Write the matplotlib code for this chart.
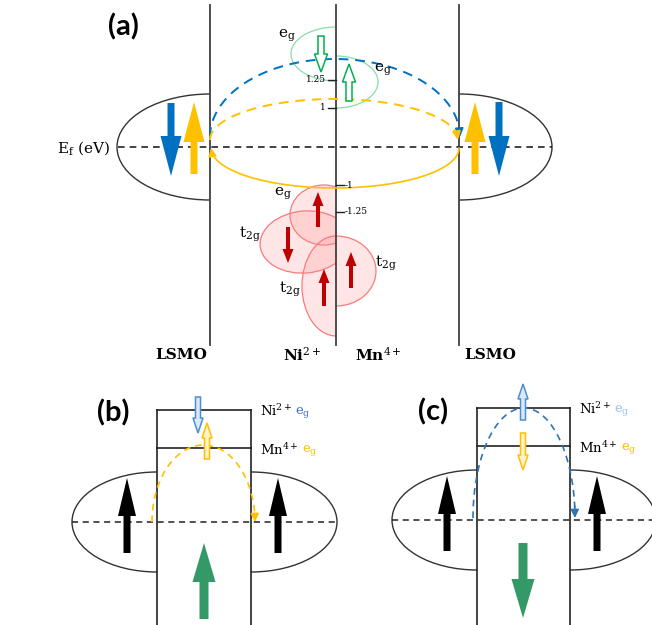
import numpy as np
import matplotlib.pyplot as plt
from matplotlib.patches import Ellipse, Arc, Rectangle, FancyArrow

plt.rcParams['mathtext.fontset'] = 'dejavuserif'
SERIF = 'DejaVu Serif'

# Textos del esquema
panel_labels = ['(a)', '(b)', '(c)']
layer_labels = ['LSMO', 'Ni$^{2+}$', 'Mn$^{4+}$', 'LSMO']
upper_ticks = ['1.25', '1']
lower_ticks = ['-1', '-1.25']
level_ions = ['Ni$^{2+}$', 'Mn$^{4+}$']
eg_label = 'e$_\\mathrm{g}$'
t2g_label = 't$_\\mathrm{2g}$'
ef_label = 'E$_\\mathrm{f}$ (eV)'

# Colores
BLUE = '#0070c0'
YELLOW = '#ffc000'
DARKRED = '#c00000'
GREEN = '#00b050'
SEAGREEN = '#339966'
LINE = '#404040'
PINK = (1.0, 0.55, 0.55, 0.22)

fig = plt.figure(figsize=(6.52, 6.25), dpi=100)
ax = fig.add_axes([0, 0, 1, 1])
ax.set_xlim(0, 652)
ax.set_ylim(625, 0)
ax.axis('off')
renderer = fig.canvas.get_renderer()


def flecha(x, y0, y1, color, w, hw, hl, face=None, z=5):
    if face is None:
        a = FancyArrow(x, y0, 0, y1 - y0, width=w, head_width=hw, head_length=hl,
                       length_includes_head=True, fc=color, ec=color, lw=0, zorder=z)
    else:
        a = FancyArrow(x, y0, 0, y1 - y0, width=w, head_width=hw, head_length=hl,
                       length_includes_head=True, fc=face, ec=color, lw=1.1, zorder=z)
    ax.add_patch(a)


def media_elipse(cx, cy, a, b, lado):
    if lado == 'izq':
        arc = Arc((cx, cy), 2 * a, 2 * b, theta1=90, theta2=270, color='#333333', lw=1)
    else:
        arc = Arc((cx, cy), 2 * a, 2 * b, theta1=-90, theta2=90, color='#333333', lw=1)
    ax.add_patch(arc)


def arco(cx, cy, a, b, color, ls, arriba=True, hacia_izq=False, lw=1.4):
    t = np.linspace(0, np.pi, 200)
    if hacia_izq:
        x = cx + a * np.cos(t)
    else:
        x = cx - a * np.cos(t)
    y = cy - b * np.sin(t) if arriba else cy + b * np.sin(t)
    ax.plot(x[:-6], y[:-6], color=color, ls=ls, lw=lw, zorder=3)
    ax.annotate('', xy=(x[-1], y[-1]), xytext=(x[-8], y[-8]),
                arrowprops=dict(arrowstyle='-|>', color=color, lw=lw,
                                mutation_scale=12, shrinkA=0, shrinkB=0), zorder=3)


def lobulo(cx, cy, w, h, fc, ec, lado, ang=0):
    e = Ellipse((cx, cy), w, h, angle=ang, fc=fc, ec=ec, lw=0.9, zorder=1)
    ax.add_patch(e)
    if lado == 'izq':
        clip = Rectangle((0, 0), 336, 625, transform=ax.transData)
    else:
        clip = Rectangle((336, 0), 316, 625, transform=ax.transData)
    e.set_clip_path(clip)


def texto_doble(x, y, t1, t2, col2, fs=9.5):
    # dos textos seguidos, el segundo con otro color
    a = ax.text(x, y, t1, fontsize=fs, family=SERIF, ha='left', va='center')
    bb = a.get_window_extent(renderer=renderer)
    ax.text(bb.x1 + 3, y + 1, t2, fontsize=fs, family=SERIF, color=col2,
            ha='left', va='center')


# ---------------- Panel (a) ----------------
ax.text(123, 27, panel_labels[0], fontsize=21, fontweight='bold', family='Lato',
        ha='center', va='center')

for xv in [210, 336, 459]:
    ax.plot([xv, xv], [5, 345], color=LINE, lw=1.3, zorder=2)

media_elipse(210, 147, 93, 53, 'izq')
media_elipse(459, 147, 93, 53, 'der')
ax.plot([118, 552], [147, 147], color='#222222', ls=(0, (4, 3)), lw=1.2, zorder=2)
ax.text(84, 148, ef_label, fontsize=11, family=SERIF, ha='center', va='center')

# espines en LSMO
flecha(171, 103, 176, BLUE, 7, 21, 40)
flecha(194, 174, 102, YELLOW, 7, 21, 40)
flecha(475, 174, 102, YELLOW, 7, 21, 40)
flecha(499, 102, 176, BLUE, 7, 21, 40)

# lóbulos e_g (verde) y t2g (rojo)
lobulo(336, 54, 90, 54, 'none', '#88ddaa', 'izq')
lobulo(336, 82, 84, 52, 'none', '#88ddaa', 'der')
lobulo(324, 215, 68, 60, PINK, '#f47c7c', 'izq')
lobulo(305, 242, 90, 62, PINK, '#f47c7c', 'izq', ang=-5)
lobulo(336, 286, 68, 100, PINK, '#f47c7c', 'izq')
lobulo(336, 271, 80, 70, PINK, '#f47c7c', 'der')

flecha(321, 36, 72, GREEN, 6, 13, 18, face='white')
flecha(349, 101, 64, GREEN, 6, 13, 18, face='white')

flecha(318, 227, 192, DARKRED, 4, 11, 14)
flecha(288, 227, 263, DARKRED, 4, 11, 14)
flecha(324, 306, 269, DARKRED, 4, 11, 14)
flecha(351, 288, 252, DARKRED, 4, 11, 14)

# arcos de transferencia
arco(335, 137, 125, 78, BLUE, (0, (5, 3.5)))
arco(334, 140, 124, 41, YELLOW, (0, (5, 3.5)))
arco(335, 148, 124, 40, YELLOW, '-', arriba=False, hacia_izq=True, lw=1.2)

# marcas de energía
for lab, yv in zip(upper_ticks, [80, 108]):
    ax.plot([328, 336], [yv, yv], color='#222222', lw=1)
    ax.text(326, yv, lab, fontsize=6.5, family=SERIF, ha='right', va='center')
for lab, yv in zip(lower_ticks, [185, 212]):
    ax.plot([336, 344], [yv, yv], color='#222222', lw=1)
    ax.text(345, yv, lab, fontsize=6.5, family=SERIF, ha='left', va='center')

ax.text(287, 36, eg_label, fontsize=11, family=SERIF, ha='center', va='center')
ax.text(383, 70, eg_label, fontsize=11, family=SERIF, ha='center', va='center')
ax.text(283, 194, eg_label, fontsize=11, family=SERIF, ha='center', va='center')
ax.text(250, 234, t2g_label, fontsize=11, family=SERIF, ha='center', va='center')
ax.text(290, 289, t2g_label, fontsize=11, family=SERIF, ha='center', va='center')
ax.text(386, 263, t2g_label, fontsize=11, family=SERIF, ha='center', va='center')

for lab, xv in zip(layer_labels, [181, 302, 378, 490]):
    ax.text(xv, 355, lab, fontsize=11, family=SERIF, fontweight='bold',
            ha='center', va='center')


# ---------------- Paneles (b) y (c) ----------------
def panel_inferior(lab, x0, x1, ytop, ylev, yef, eg_ni_col, eg_mn_col, lab_xy):
    ax.text(lab_xy[0], lab_xy[1], lab, fontsize=21, fontweight='bold', family='Lato',
            ha='center', va='center')
    ax.plot([x0, x1], [ytop, ytop], color='#222222', lw=1.2)
    ax.plot([x0, x1], [ylev, ylev], color='#222222', lw=1.2)
    for xv in [x0, x1]:
        ax.plot([xv, xv], [ytop, 625], color='#222222', lw=1.2)
    media_elipse(x0, yef, 85, 50, 'izq')
    media_elipse(x1, yef, 86, 50, 'der')
    ax.plot([x0 - 85, min(x1 + 86, 652)], [yef, yef], color='#222222',
            ls=(0, (4, 3)), lw=1.1, zorder=2)
    flecha(x0 - 30, yef + 31, yef - 44, 'black', 7, 18, 38)
    flecha(x1 + 27, yef + 31, yef - 44, 'black', 7, 18, 38)
    xt = x1 + 9
    texto_doble(xt, ytop + 1, level_ions[0], eg_label, eg_ni_col)
    texto_doble(xt, ylev + 2, level_ions[1], eg_label, eg_mn_col)


panel_inferior(panel_labels[1], 157, 251, 410, 448, 522, '#4472c4', YELLOW, (113, 413))
panel_inferior(panel_labels[2], 477, 570, 408, 446, 520, '#9dc3e6', YELLOW, (433, 412))

# (b)
flecha(204, 619, 543, SEAGREEN, 9, 23, 39)
flecha(198, 397, 433, '#4a8fd0', 5, 10, 15, face='#dce9f5')
flecha(207, 459, 423, YELLOW, 5, 10, 15, face='#fff2cc')
arco(203.5, 522, 51.5, 77, YELLOW, (0, (4, 3)), lw=1.2)

# (c)
flecha(523, 543, 618, SEAGREEN, 9, 23, 39)
flecha(523, 420, 384, '#4a8fd0', 5, 10, 15, face='#dce9f5')
flecha(523, 433, 470, YELLOW, 5, 10, 15, face='#fff2cc')
arco(524, 518, 51, 110, '#2e75b6', (0, (4, 3)), lw=1.2)

plt.savefig('out.png', dpi=100)
